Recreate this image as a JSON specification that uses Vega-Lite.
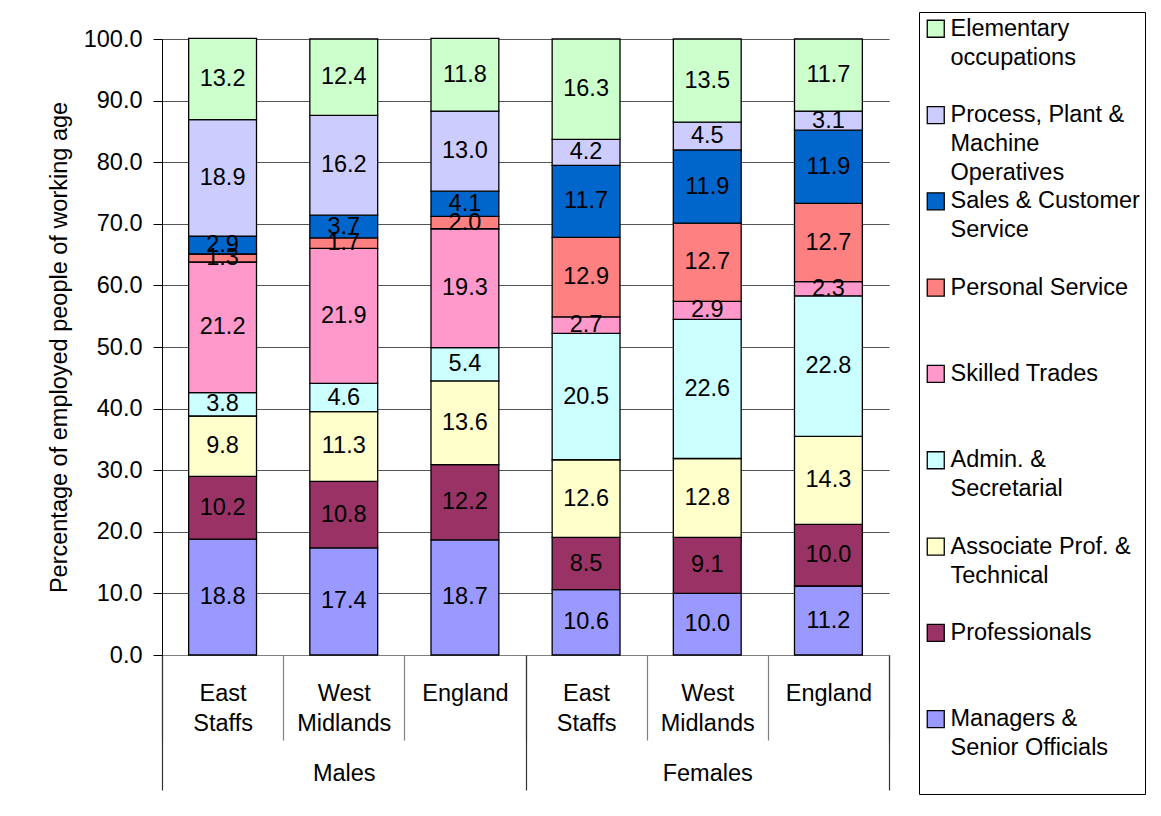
{
  "$schema": "https://vega.github.io/schema/vega-lite/v6.json",
  "width": 727,
  "height": 616,
  "autosize": {"type": "none"},
  "padding": {"left": 162, "top": 39, "right": 272, "bottom": 161},
  "background": "white",
  "config": {"font": "Liberation Sans", "view": {"stroke": null}},
  "data": {"values": [
    {"sex": "Males", "bar": "Males: East Staffs", "soc": 1, "occ": "Managers & Senior Officials", "pct": 18.8},
    {"sex": "Males", "bar": "Males: West Midlands", "soc": 1, "occ": "Managers & Senior Officials", "pct": 17.4},
    {"sex": "Males", "bar": "Males: England", "soc": 1, "occ": "Managers & Senior Officials", "pct": 18.7},
    {"sex": "Females", "bar": "Females: East Staffs", "soc": 1, "occ": "Managers & Senior Officials", "pct": 10.6},
    {"sex": "Females", "bar": "Females: West Midlands", "soc": 1, "occ": "Managers & Senior Officials", "pct": 10.0},
    {"sex": "Females", "bar": "Females: England", "soc": 1, "occ": "Managers & Senior Officials", "pct": 11.2},
    {"sex": "Males", "bar": "Males: East Staffs", "soc": 2, "occ": "Professionals", "pct": 10.2},
    {"sex": "Males", "bar": "Males: West Midlands", "soc": 2, "occ": "Professionals", "pct": 10.8},
    {"sex": "Males", "bar": "Males: England", "soc": 2, "occ": "Professionals", "pct": 12.2},
    {"sex": "Females", "bar": "Females: East Staffs", "soc": 2, "occ": "Professionals", "pct": 8.5},
    {"sex": "Females", "bar": "Females: West Midlands", "soc": 2, "occ": "Professionals", "pct": 9.1},
    {"sex": "Females", "bar": "Females: England", "soc": 2, "occ": "Professionals", "pct": 10.0},
    {"sex": "Males", "bar": "Males: East Staffs", "soc": 3, "occ": "Associate Prof. & Technical", "pct": 9.8},
    {"sex": "Males", "bar": "Males: West Midlands", "soc": 3, "occ": "Associate Prof. & Technical", "pct": 11.3},
    {"sex": "Males", "bar": "Males: England", "soc": 3, "occ": "Associate Prof. & Technical", "pct": 13.6},
    {"sex": "Females", "bar": "Females: East Staffs", "soc": 3, "occ": "Associate Prof. & Technical", "pct": 12.6},
    {"sex": "Females", "bar": "Females: West Midlands", "soc": 3, "occ": "Associate Prof. & Technical", "pct": 12.8},
    {"sex": "Females", "bar": "Females: England", "soc": 3, "occ": "Associate Prof. & Technical", "pct": 14.3},
    {"sex": "Males", "bar": "Males: East Staffs", "soc": 4, "occ": "Admin. & Secretarial", "pct": 3.8},
    {"sex": "Males", "bar": "Males: West Midlands", "soc": 4, "occ": "Admin. & Secretarial", "pct": 4.6},
    {"sex": "Males", "bar": "Males: England", "soc": 4, "occ": "Admin. & Secretarial", "pct": 5.4},
    {"sex": "Females", "bar": "Females: East Staffs", "soc": 4, "occ": "Admin. & Secretarial", "pct": 20.5},
    {"sex": "Females", "bar": "Females: West Midlands", "soc": 4, "occ": "Admin. & Secretarial", "pct": 22.6},
    {"sex": "Females", "bar": "Females: England", "soc": 4, "occ": "Admin. & Secretarial", "pct": 22.8},
    {"sex": "Males", "bar": "Males: East Staffs", "soc": 5, "occ": "Skilled Trades", "pct": 21.2},
    {"sex": "Males", "bar": "Males: West Midlands", "soc": 5, "occ": "Skilled Trades", "pct": 21.9},
    {"sex": "Males", "bar": "Males: England", "soc": 5, "occ": "Skilled Trades", "pct": 19.3},
    {"sex": "Females", "bar": "Females: East Staffs", "soc": 5, "occ": "Skilled Trades", "pct": 2.7},
    {"sex": "Females", "bar": "Females: West Midlands", "soc": 5, "occ": "Skilled Trades", "pct": 2.9},
    {"sex": "Females", "bar": "Females: England", "soc": 5, "occ": "Skilled Trades", "pct": 2.3},
    {"sex": "Males", "bar": "Males: East Staffs", "soc": 6, "occ": "Personal Service", "pct": 1.3},
    {"sex": "Males", "bar": "Males: West Midlands", "soc": 6, "occ": "Personal Service", "pct": 1.7},
    {"sex": "Males", "bar": "Males: England", "soc": 6, "occ": "Personal Service", "pct": 2.0},
    {"sex": "Females", "bar": "Females: East Staffs", "soc": 6, "occ": "Personal Service", "pct": 12.9},
    {"sex": "Females", "bar": "Females: West Midlands", "soc": 6, "occ": "Personal Service", "pct": 12.7},
    {"sex": "Females", "bar": "Females: England", "soc": 6, "occ": "Personal Service", "pct": 12.7},
    {"sex": "Males", "bar": "Males: East Staffs", "soc": 7, "occ": "Sales & Customer Service", "pct": 2.9},
    {"sex": "Males", "bar": "Males: West Midlands", "soc": 7, "occ": "Sales & Customer Service", "pct": 3.7},
    {"sex": "Males", "bar": "Males: England", "soc": 7, "occ": "Sales & Customer Service", "pct": 4.1},
    {"sex": "Females", "bar": "Females: East Staffs", "soc": 7, "occ": "Sales & Customer Service", "pct": 11.7},
    {"sex": "Females", "bar": "Females: West Midlands", "soc": 7, "occ": "Sales & Customer Service", "pct": 11.9},
    {"sex": "Females", "bar": "Females: England", "soc": 7, "occ": "Sales & Customer Service", "pct": 11.9},
    {"sex": "Males", "bar": "Males: East Staffs", "soc": 8, "occ": "Process, Plant & Machine Operatives", "pct": 18.9},
    {"sex": "Males", "bar": "Males: West Midlands", "soc": 8, "occ": "Process, Plant & Machine Operatives", "pct": 16.2},
    {"sex": "Males", "bar": "Males: England", "soc": 8, "occ": "Process, Plant & Machine Operatives", "pct": 13.0},
    {"sex": "Females", "bar": "Females: East Staffs", "soc": 8, "occ": "Process, Plant & Machine Operatives", "pct": 4.2},
    {"sex": "Females", "bar": "Females: West Midlands", "soc": 8, "occ": "Process, Plant & Machine Operatives", "pct": 4.5},
    {"sex": "Females", "bar": "Females: England", "soc": 8, "occ": "Process, Plant & Machine Operatives", "pct": 3.1},
    {"sex": "Males", "bar": "Males: East Staffs", "soc": 9, "occ": "Elementary occupations", "pct": 13.2},
    {"sex": "Males", "bar": "Males: West Midlands", "soc": 9, "occ": "Elementary occupations", "pct": 12.4},
    {"sex": "Males", "bar": "Males: England", "soc": 9, "occ": "Elementary occupations", "pct": 11.8},
    {"sex": "Females", "bar": "Females: East Staffs", "soc": 9, "occ": "Elementary occupations", "pct": 16.3},
    {"sex": "Females", "bar": "Females: West Midlands", "soc": 9, "occ": "Elementary occupations", "pct": 13.5},
    {"sex": "Females", "bar": "Females: England", "soc": 9, "occ": "Elementary occupations", "pct": 11.7}
  ]},
  "layer": [
    {
      "layer": [
        {
          "mark": {"type": "bar", "stroke": "#000000", "strokeWidth": 1.3, "width": {"band": 0.56}},
          "encoding": {
            "x": {
              "field": "bar", "type": "nominal",
              "scale": {"domain": ["Males: East Staffs", "Males: West Midlands", "Males: England", "Females: East Staffs", "Females: West Midlands", "Females: England"], "paddingInner": 0, "paddingOuter": 0},
              "axis": {
                "title": null, "orient": "bottom",
                "labelExpr": "datum.value ? split(split(datum.value, ': ')[1], ' ') : ''",
                "labelAngle": 0, "labelOverlap": false, "labelFontSize": 23.5, "labelColor": "#000000",
                "labelLineHeight": 30, "labelBaseline": "top", "labelAlign": "center",
                "tickBand": "extent", "tickSize": 85, "tickColor": "#808080", "tickWidth": 1.2,
                "domainColor": "#808080", "domainWidth": 1.2, "labelPadding": -59, "grid": false
              }
            },
            "y": {
              "field": "pct", "type": "quantitative", "stack": "zero",
              "scale": {"domain": [0, 100], "nice": false},
              "axis": {
                "title": "Percentage of employed people of working age",
                "titleFontSize": 23.5, "titleFontWeight": "normal", "titleColor": "#000000", "titlePadding": 12,
                "labelFontSize": 23.5, "labelColor": "#000000", "format": ".1f",
                "values": [0, 10, 20, 30, 40, 50, 60, 70, 80, 90, 100],
                "tickSize": 9, "labelPadding": 11, "tickColor": "#000000", "domainColor": "#000000",
                "grid": true, "gridColor": "#555555", "gridWidth": 1
              }
            },
            "color": {
              "field": "occ", "type": "nominal",
              "scale": {
                "domain": ["Elementary occupations", "Process, Plant & Machine Operatives", "Sales & Customer Service", "Personal Service", "Skilled Trades", "Admin. & Secretarial", "Associate Prof. & Technical", "Professionals", "Managers & Senior Officials"],
                "range": ["#CCFFCC", "#CCCCFF", "#0066CC", "#FF8080", "#FF99CC", "#CCFFFF", "#FFFFCC", "#993366", "#9999FF"]
              },
              "legend": {
                "title": null, "orient": "none", "legendX": 757, "legendY": -27,
                "labelExpr": "datum.label == 'Elementary occupations' ? ['Elementary', 'occupations', ''] : datum.label == 'Process, Plant & Machine Operatives' ? ['Process, Plant &', 'Machine', 'Operatives'] : datum.label == 'Sales & Customer Service' ? ['Sales & Customer', 'Service', ''] : datum.label == 'Personal Service' ? ['Personal Service', '', ''] : datum.label == 'Skilled Trades' ? ['Skilled Trades', '', ''] : datum.label == 'Admin. & Secretarial' ? ['Admin. &', 'Secretarial', ''] : datum.label == 'Associate Prof. & Technical' ? ['Associate Prof. &', 'Technical', ''] : datum.label == 'Professionals' ? ['Professionals', '', ''] : ['Managers &', 'Senior Officials', '']",
                "padding": 5, "strokeColor": "#000000", "fillColor": "#ffffff",
                "symbolType": "square", "symbolSize": 289, "symbolStrokeColor": "#000000", "symbolStrokeWidth": 1.3,
                "labelFontSize": 23.5, "labelColor": "#000000", "labelLimit": 400, "labelOffset": 3,
                "rowPadding": 3.3,
                "encoding": {"labels": {"lineHeight": {"value": 29}}}
              }
            },
            "order": {"field": "soc", "type": "quantitative"}
          }
        },
        {
          "mark": {"type": "text", "fontSize": 23.5, "color": "#000000", "baseline": "middle"},
          "encoding": {
            "x": {"field": "bar", "type": "nominal"},
            "y": {"field": "pct", "type": "quantitative", "stack": "zero", "bandPosition": 0.5},
            "detail": {"field": "occ"},
            "order": {"field": "soc", "type": "quantitative"},
            "text": {"field": "pct", "type": "quantitative", "format": ".1f"}
          }
        }
      ]
    },
    {
      "mark": {"type": "text", "opacity": 0},
      "encoding": {
        "x": {
          "field": "sex", "type": "nominal",
          "scale": {"type": "band", "domain": ["Males", "Females"], "paddingInner": 0, "paddingOuter": 0},
          "axis": {
            "title": null, "orient": "bottom", "labelAngle": 0, "labelFontSize": 23.5, "labelColor": "#000000",
            "labelBaseline": "top", "tickBand": "extent", "tickSize": 135, "tickColor": "#333333", "tickWidth": 1.2,
            "domain": false, "labelPadding": -29, "grid": false
          }
        },
        "text": {"value": ""}
      }
    }
  ],
  "resolve": {"scale": {"x": "independent"}}
}
